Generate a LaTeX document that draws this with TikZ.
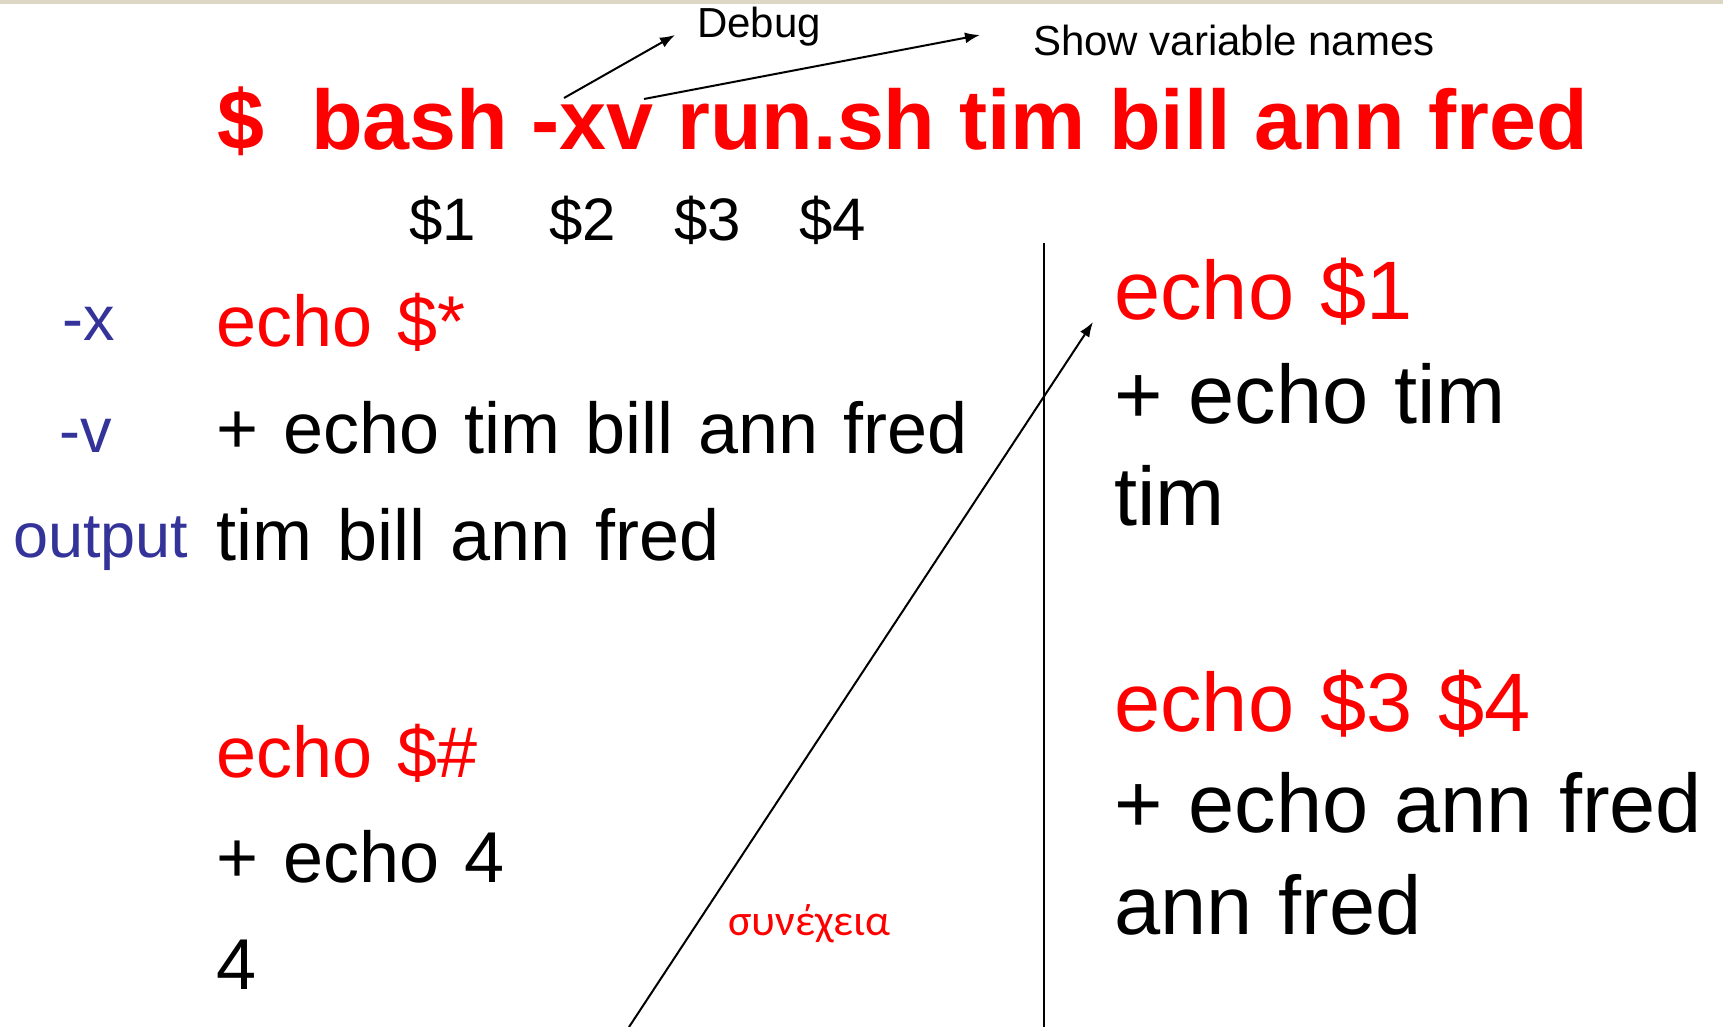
\documentclass[tikz,border=0pt]{standalone}
\usepackage{fontspec}
\setmainfont{Liberation Sans}
\newfontfamily\greekfont{Carlito}
\usetikzlibrary{arrows.meta}

\definecolor{cmdred}{RGB}{255,0,0}
\definecolor{flagblue}{RGB}{51,51,153}
\definecolor{barbeige}{RGB}{222,214,197}

\newcommand{\lcolfont}{\fontsize{72}{72}\selectfont\spaceskip 25pt\relax}
\newcommand{\rcolfont}{\fontsize{83}{83}\selectfont\spaceskip 26pt\relax}

\begin{document}
\begin{tikzpicture}[x=1pt, y=-1pt,
    txt/.style={inner sep=0pt, anchor=base west},
    cmd/.style={txt, text=cmdred},
    flag/.style={txt, text=flagblue, font=\fontsize{63}{63}\selectfont},
    lcol/.style={font=\lcolfont},
    rcol/.style={font=\rcolfont},
    ptr/.style={-{Latex[length=15pt, width=11pt]}, line width=2pt}]

        \useasboundingbox (0,0) rectangle (1723,1027);
        \fill[barbeige] (0,0) rectangle (1723,4);

        \node[cmd, font=\fontsize{84.5}{84.5}\selectfont\bfseries] (title) at (217,150) {\$\ \ bash -xv run.sh tim bill ann fred};
        \node[txt, font=\fontsize{42}{42}\selectfont] (debug) at (697,38) {Debug};
        \node[txt, font=\fontsize{42}{42}\selectfont] (shownames) at (1033,56) {Show variable names};

        \node[txt, font=\fontsize{60}{60}\selectfont] (arg1) at (409,240) {\$1};
        \node[txt, font=\fontsize{60}{60}\selectfont] (arg2) at (549,240) {\$2};
        \node[txt, font=\fontsize{60}{60}\selectfont] (arg3) at (674,240) {\$3};
        \node[txt, font=\fontsize{60}{60}\selectfont] (arg4) at (799,240) {\$4};

        \node[flag] (fx) at (62,340) {-x};
        \node[flag] (fv) at (59,452) {-v};
        \node[flag] (fout) at (13,557) {output};

        \node[cmd, lcol] (l1) at (216,346) {echo \$*};
        \node[txt, lcol] (l2) at (216,453) {+ echo tim bill ann fred};
        \node[txt, lcol] (l3) at (216,560) {tim bill ann fred};
        \node[cmd, lcol] (l4) at (216,777) {echo \$\#};
        \node[txt, lcol] (l5) at (216,882) {+ echo 4};
        \node[txt, lcol] (l6) at (216,989) {4};

        \node[cmd, rcol] (r1) at (1114,319) {echo \$1};
        \node[txt, rcol] (r2) at (1114,423) {+ echo tim};
        \node[txt, rcol] (r3) at (1114,525) {tim};
        \node[cmd, rcol] (r4) at (1114,731) {echo \$3 \$4};
        \node[txt, rcol] (r5) at (1114,832) {+ echo ann fred};
        \node[txt, rcol] (r6) at (1114,934) {ann fred};

        \node[cmd, font=\greekfont\fontsize{44}{44}\selectfont] (cont) at (728,935) {συνέχεια};

        \coordinate (xflag) at (564,98);
        \coordinate (vflag) at (644,99);
        \coordinate (contfoot) at (629,1027);
        \coordinate (divtop) at (1044,243);
        \coordinate (divbot) at (1044,1027);

        \draw[ptr] (xflag) -- ([xshift=-22pt, yshift=3pt]debug.base west);
        \draw[ptr] (vflag) -- ([xshift=-53pt, yshift=21pt]shownames.base west);
        \draw[ptr] (contfoot) -- ([xshift=-21pt, yshift=-3pt]r1.base west);
        \draw[line width=2pt] (divtop) -- (divbot);
    \end{tikzpicture}
\end{document}
